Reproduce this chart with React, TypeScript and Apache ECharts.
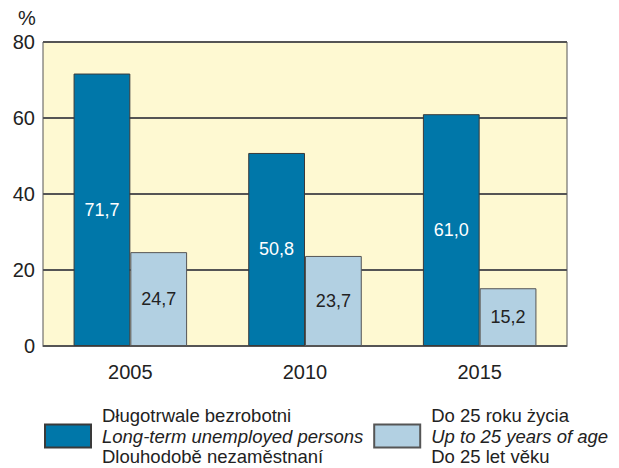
import React, { useEffect, useRef } from "react";
import * as echarts from "echarts";

const years = ["2005", "2010", "2015"];
const longTerm = [71.7, 50.8, 61.0];
const youth = [24.7, 23.7, 15.2];
const yTicks = [0, 20, 40, 60, 80];
const legendLongTerm = ["Długotrwale bezrobotni", "Long-term unemployed persons", "Dlouhodobě nezaměstnaní"];
const legendYouth = ["Do 25 roku życia", "Up to 25 years of age", "Do 25 let věku"];

const fmt = (v: number) => v.toFixed(1).replace(".", ",");

export default function App() {
  const ref = useRef<HTMLDivElement>(null);
  useEffect(() => {
    if (!ref.current) return;
    const chart = echarts.init(ref.current, null, { renderer: "svg" });
    const font = "'Liberation Sans', Arial, sans-serif";
    const nameLT = legendLongTerm.join("|");
    const nameY = legendYouth.join("|");
    const legendFormatter = (name: string) => {
      const parts = name.split("|");
      return `{a|${parts[0]}}\n{b|${parts[1]}}\n{a|${parts[2]}}`;
    };
    chart.setOption({
      animation: false,
      backgroundColor: "#ffffff",
      textStyle: { fontFamily: font },
      title: {
        text: "%",
        left: 13,
        top: 3,
        textStyle: { fontSize: 20, fontWeight: "normal", color: "#222", fontFamily: font },
      },
      grid: {
        left: 43,
        right: 52,
        top: 42,
        bottom: 122,
        show: true,
        backgroundColor: "#FEF9D2",
        borderColor: "#555",
        borderWidth: 1,
      },
      legend: {
        left: 44,
        top: 406,
        padding: 0,
        itemWidth: 46,
        itemHeight: 23,
        itemGap: 10,
        icon: "rect",
        formatter: legendFormatter,
        textStyle: {
          fontFamily: font,
          padding: [0, 0, 0, 6],
          rich: {
            a: { fontSize: 18.5, lineHeight: 20.5, color: "#222", fontFamily: font },
            b: { fontSize: 18.5, lineHeight: 20.5, color: "#222", fontStyle: "italic", fontFamily: font },
          },
        },
        data: [nameLT, nameY],
      },
      xAxis: {
        type: "category",
        data: years,
        axisTick: { show: false },
        axisLine: { show: true, lineStyle: { color: "#555", width: 1 } },
        axisLabel: { fontSize: 20, color: "#222", margin: 16, fontFamily: font },
      },
      yAxis: {
        type: "value",
        min: yTicks[0],
        max: yTicks[yTicks.length - 1],
        interval: 20,
        axisTick: { show: false },
        axisLine: { show: false },
        axisLabel: { fontSize: 20, color: "#222", margin: 8, fontFamily: font },
        splitLine: { show: true, lineStyle: { color: "#555", width: 2 } },
      },
      series: [
        {
          name: nameLT,
          type: "bar",
          data: longTerm,
          barGap: "0%",
          barCategoryGap: "35%",
          itemStyle: { color: "#0077A9", borderColor: "#3a3a3a", borderWidth: 1 },
          label: {
            show: true,
            position: "inside",
            formatter: (p: any) => fmt(p.value),
            color: "#ffffff",
            fontSize: 18,
            fontFamily: font,
          },
        },
        {
          name: nameY,
          type: "bar",
          data: youth,
          itemStyle: { color: "#B2D0E2", borderColor: "#555", borderWidth: 1 },
          label: {
            show: true,
            position: "inside",
            formatter: (p: any) => fmt(p.value),
            color: "#222",
            fontSize: 18,
            fontFamily: font,
          },
        },
      ],
    });
    return () => chart.dispose();
  }, []);
  return <div ref={ref} style={{ position: "fixed", left: 0, top: 0, width: 619, height: 468 }} />;
}
